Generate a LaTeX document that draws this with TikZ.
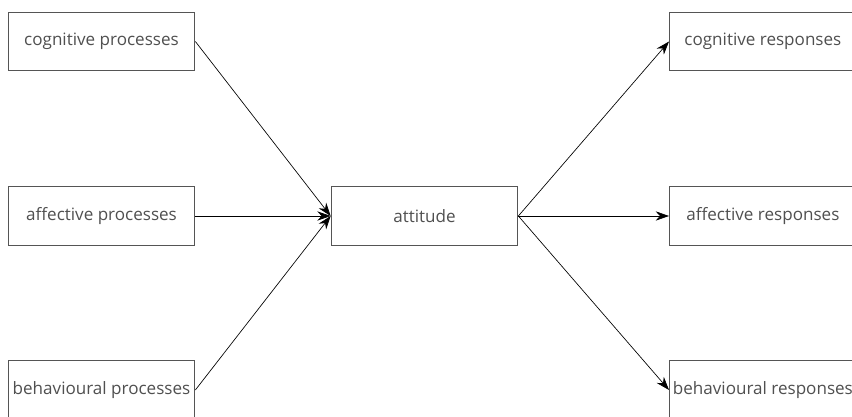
\documentclass[tikz,border=0pt]{standalone}
\usepackage{fontspec}
\setmainfont{Open Sans}
\usepackage{xcolor}
\usepackage{tikz}
\usetikzlibrary{arrows.meta,positioning}
\definecolor{frame}{HTML}{555555}
\definecolor{ink}{HTML}{505050}
\tikzset{
  >={Stealth[length=10pt,width=7pt]},
  flow/.style={->,draw=black,line width=0.5pt},
  box/.style={draw=frame,line width=0.8pt,fill=white,align=center,
    minimum width=140pt,minimum height=44pt,inner sep=0pt,
    font=\fontsize{12.8}{15}\selectfont,text=ink}
}
\begin{document}
\begin{tikzpicture}[x=0.75pt,y=0.75pt]
  \useasboundingbox (0,0) rectangle (852,417);
  % left column
  \node[box] (cogproc) at (101.5,375.5) {cognitive processes};
  \node[box] (affproc) at (101.5,201) {affective processes};
  \node[box] (behproc) at (101.5,27) {behavioural processes};
  % centre
  \node[box] (attitude) at (424.5,201) {attitude};
  % right column
  \node[box,anchor=west] (cogresp) at (669,375.5) {cognitive responses};
  \node[box,anchor=west] (affresp) at (669,201) {affective responses};
  \node[box,anchor=west] (behresp) at (669,27) {behavioural responses};
  \draw[flow] (cogproc.east) -- (attitude.west);
  \draw[flow] (affproc.east) -- (attitude.west);
  \draw[flow] (behproc.east) -- (attitude.west);
  \draw[flow] (attitude.east) -- (cogresp.west);
  \draw[flow] (attitude.east) -- (affresp.west);
  \draw[flow] (attitude.east) -- (behresp.west);
\end{tikzpicture}
\end{document}
